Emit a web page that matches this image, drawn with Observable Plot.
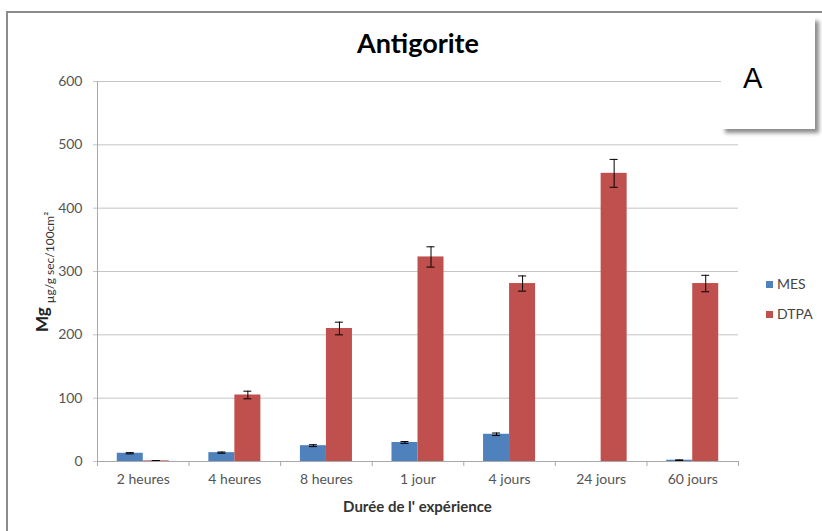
<!DOCTYPE html>
<html><head><meta charset="utf-8">
<script src="https://cdn.jsdelivr.net/npm/d3@7"></script>
<script src="https://cdn.jsdelivr.net/npm/@observablehq/plot@0.6"></script>
<style>
html,body{margin:0;padding:0;background:#fff;}
#wrap{position:relative;width:822px;height:531px;overflow:hidden;font-family:Lato,sans-serif;background:#fff;}
#chart{position:absolute;left:0;top:0;}
#frame{position:absolute;left:6px;top:11px;width:900px;height:700px;border:2px solid #8c8c8c;box-sizing:border-box;}
#boxA{position:absolute;left:721px;top:17px;width:94px;height:112px;background:#fff;box-shadow:4px 4px 4px rgba(0,0,0,0.45);}
#overlay{position:absolute;left:0;top:0;}
</style></head>
<body><div id="wrap"><div id="chart"></div><div id="frame"></div><div id="boxA"></div><svg id="overlay" width="822" height="531"></svg></div>
<script>
// ---- data ----
const categories = ["2 heures", "4 heures", "8 heures", "1 jour", "4 jours", "24 jours", "60 jours"];
const series = ["MES", "DTPA"];
const seriesColors = ["#4f81bd", "#c0504d"];
const mesValues  = [13, 14, 25, 30, 43, 0, 2];
const mesErrors  = [1, 1, 1.5, 1.5, 2, 0, 0.5];
const dtpaValues = [1, 105, 210, 323, 281, 455, 281];
const dtpaErrors = [0.5, 6, 10, 16, 12, 22, 13];
const yTicks = [0, 100, 200, 300, 400, 500, 600];
const chartTitle = "Antigorite";
const xTitle = "Durée de l' expérience";
const yTitleMain = "Mg";
const yTitleSub = "µg/g sec/100cm²";
const panelLetter = "A";

// ---- build table ----
const inner = d3.scaleBand().domain(series).range([0, 1]).paddingInner(0).paddingOuter(0.76);
const valuesBySeries = [mesValues, dtpaValues];
const errorsBySeries = [mesErrors, dtpaErrors];
const rows = [];
categories.forEach((c, i) => {
  series.forEach((s, k) => {
    const v = valuesBySeries[k][i], e = errorsBySeries[k][i];
    const x1 = i + inner(s);
    rows.push({category: c, series: s, x1, x2: x1 + inner.bandwidth(), xm: x1 + inner.bandwidth() / 2, value: v, lo: v - e, hi: v + e, err: e});
  });
});
const errRows = rows.filter(d => d.err > 0);

const gridColor = "#c4c4c4";
const axisColor = "#a8a8a8";
const textColor = "#555";

const chart = Plot.plot({
  width: 822, height: 531,
  marginLeft: 97, marginRight: 84, marginTop: 81, marginBottom: 70,
  style: {fontFamily: "Lato, sans-serif", fontSize: "14px", background: "transparent"},
  x: {type: "linear", domain: [0, categories.length], axis: null},
  y: {domain: [0, 600], axis: null},
  color: {domain: series, range: seriesColors},
  marks: [
    Plot.gridY(yTicks, {stroke: gridColor, strokeOpacity: 1}),
    Plot.axisY(yTicks, {tickSize: 4, tickPadding: 11, stroke: gridColor, fill: textColor, fontSize: 14, label: null}),
    Plot.ruleX([0], {stroke: axisColor}),
    Plot.rectY(rows, {x1: "x1", x2: "x2", y1: 0, y2: "value", fill: "series"}),
    Plot.ruleX(errRows, {x: "xm", y1: "lo", y2: "hi", stroke: "black"}),
    Plot.ruleY(errRows, {x1: "xm", x2: "xm", y: "hi", insetLeft: -4, insetRight: -4, stroke: "black"}),
    Plot.ruleY(errRows, {x1: "xm", x2: "xm", y: "lo", insetLeft: -4, insetRight: -4, stroke: "black"}),
    Plot.ruleY([0], {stroke: axisColor}),
    Plot.axisX(d3.range(categories.length + 1), {tickSize: 5, tickFormat: () => "", stroke: axisColor, label: null}),
    Plot.axisX(categories.map((c, i) => i + 0.5), {tickSize: 0, tickPadding: 13, tickFormat: v => categories[Math.floor(v)], fill: textColor, fontSize: 14, label: null})
  ]
});
document.getElementById("chart").appendChild(chart);

// ---- overlay texts ----
const ov = d3.select("#overlay");
ov.append("text").attr("x", 418).attr("y", 53).attr("text-anchor", "middle")
  .attr("font-family", "Lato, sans-serif").attr("font-weight", "bold").attr("font-size", 27).attr("fill", "#000").text(chartTitle);
ov.append("text").attr("x", 417.5).attr("y", 512).attr("text-anchor", "middle")
  .attr("font-family", "Lato, sans-serif").attr("font-weight", "bold").attr("font-size", 15).attr("fill", "#333").text(xTitle);
const yl = ov.append("text").attr("transform", "translate(48,332) rotate(-90)")
  .attr("font-family", "Lato, sans-serif").attr("fill", "#222");
yl.append("tspan").attr("font-weight", "bold").attr("font-size", 17).text(yTitleMain);
yl.append("tspan").attr("font-size", 12).attr("dx", 4).attr("dy", 6).attr("fill", "#333").text(yTitleSub);

const lg = ov.selectAll("g.lg").data(series).join("g").attr("transform", (d, i) => `translate(766,${281 + i * 30})`);
lg.append("rect").attr("width", 7).attr("height", 7).attr("fill", (d, i) => seriesColors[i]);
lg.append("text").attr("x", 11).attr("y", 8).attr("font-family", "Lato, sans-serif").attr("font-size", 14).attr("fill", "#444").text(d => d);

ov.append("text").attr("x", 743).attr("y", 88).attr("font-family", "'Liberation Sans', Arial, sans-serif").attr("font-size", 29).attr("fill", "#000").text(panelLetter);
</script>
</body></html>
